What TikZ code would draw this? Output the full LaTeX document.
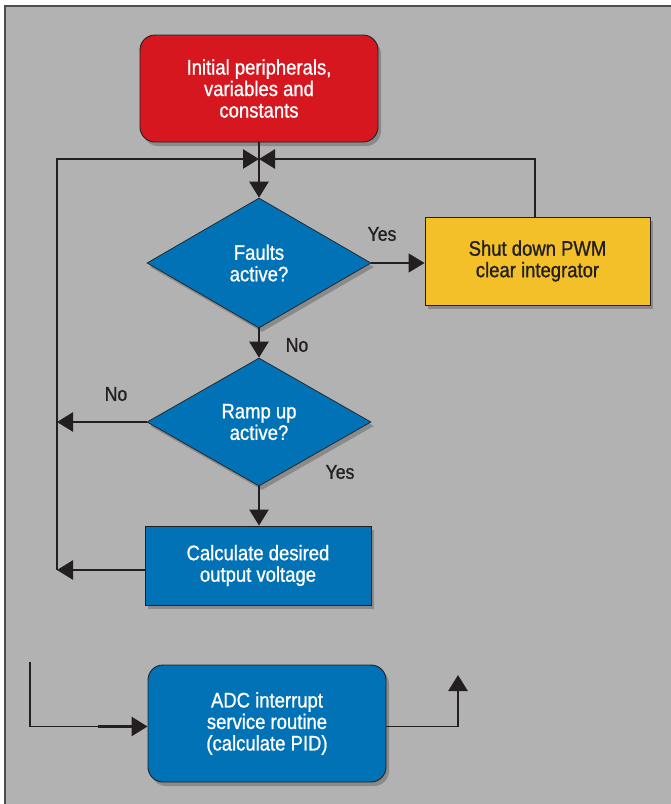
\documentclass[tikz,border=0pt]{standalone}
\usepackage{fontspec}
\setmainfont{Liberation Sans}[FakeStretch=0.88,FakeBold=1.0]
\usetikzlibrary{shapes.geometric,arrows.meta,shadows,calc}
\definecolor{bg}{HTML}{B2B2B2}
\definecolor{redbox}{HTML}{D6171F}
\definecolor{bluebox}{HTML}{0072B5}
\definecolor{yelbox}{HTML}{F3C02A}
\definecolor{ink}{HTML}{231F20}
\tikzset{
  boxfont/.style={font=\fontsize{21}{21.5}\selectfont, align=center},
  shad/.style={drop shadow={shadow xshift=3pt,shadow yshift=-4pt,opacity=0.22,fill=black}},
  rbox/.style={boxfont, draw=ink, line width=0.9pt, rounded corners=15pt, inner sep=0pt, shad},
  sbox/.style={boxfont, draw=ink, line width=0.9pt, inner sep=0pt, shad},
  dbox/.style={boxfont, shape=diamond, draw=ink, line width=0.7pt, inner sep=0pt, fill=bluebox, text=white, shad},
  lbl/.style={font=\fontsize{20}{21.5}\selectfont, text=ink},
  tip/.style={-{Triangle[length=16pt,width=19pt]}},
  thickline/.style={draw=ink, line width=2.6pt},
  thinline/.style={draw=ink, line width=1.2pt},
}
\begin{document}
\begin{tikzpicture}[x=1pt,y=-1pt]
\useasboundingbox (0,0) rectangle (671,804);
\fill[white] (0,0) rectangle (671,804);
\fill[bg] (5,6) rectangle (672,806);
\draw[ink!80, line width=1.1pt] (5,806) -- (5,6) -- (672,6);

% nodes
\node[rbox, fill=redbox, text=white, minimum width=238pt, minimum height=107pt] (init) at (259,88.5) {Initial peripherals,\\variables and\\constants};
\node[dbox, minimum width=224pt, minimum height=130pt] (faults) at (259,263) {Faults\\active?};
\node[sbox, fill=yelbox, text=ink, minimum width=225pt, minimum height=88pt] (shut) at (537.5,261) {Shut down PWM\\clear integrator};
\node[dbox, minimum width=224pt, minimum height=128pt] (ramp) at (259,422) {Ramp up\\active?};
\node[sbox, fill=bluebox, text=white, minimum width=226pt, minimum height=79pt] (calc) at (258,565.5) {Calculate desired\\output voltage};
\node[rbox, fill=bluebox, text=white, minimum width=238pt, minimum height=117pt] (adc) at (267,723.5) {ADC interrupt\\service routine\\(calculate PID)};

% helper coordinates
\coordinate (J) at (259,159);
\coordinate (LT) at (57,159);
\coordinate (LR) at (57,422);
\coordinate (LC) at (57,570);
\coordinate (RT) at (535,159);
\coordinate (ain) at (30,662);
\coordinate (aout) at (458,675);

% connectors
\draw[thickline, tip] (init.south) -- (faults.north);
\draw[thinline] (LC) -- (LT) -- ($(LT)!0.33!(J)$);
\draw[thickline, tip] ($(LT)!0.33!(J)$) -- (J);
\draw[thinline] (shut.north -| RT) -- (RT) -- ($(RT)!0.78!(J)$);
\draw[thickline, tip] ($(RT)!0.78!(J)$) -- (J);
\draw[thinline, tip] (faults.east) -- (faults.east -| shut.west);
\draw[thickline, tip] (faults.south) -- (ramp.north);
\draw[thickline, tip] (ramp.west) -- (LR);
\draw[thickline, tip] (ramp.south) -- (ramp.south |- calc.north);
\draw[thickline, tip] (calc.west |- LC) -- (LC);
\draw[thinline] (ain) |- ($(adc.west)+(-50,3)$);
\draw[thickline, tip] ($(adc.west)+(-50,3)$) -- ($(adc.west)+(0,3)$);
\draw[thinline] ($(adc.east)+(0,3)$) -| ($(aout)+(0,30)$);
\draw[thickline, tip] ($(aout)+(0,30)$) -- (aout);

% labels
\node[lbl] (yes1) at (382,234) {Yes};
\node[lbl] (no1) at (297,345) {No};
\node[lbl] (no2) at (116,394) {No};
\node[lbl] (yes2) at (340,472) {Yes};
\end{tikzpicture}
\end{document}
